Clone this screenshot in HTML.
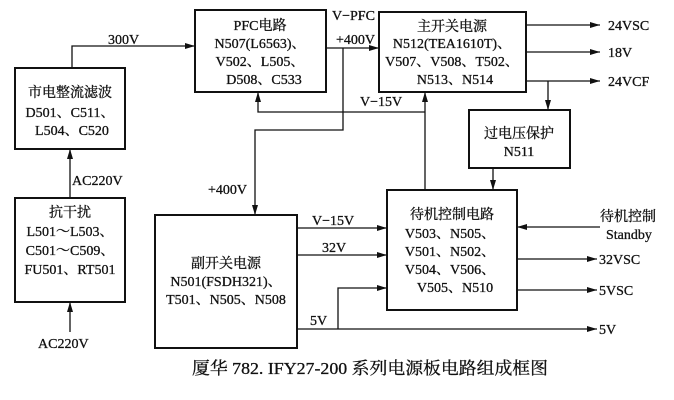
<!DOCTYPE html>
<html><head><meta charset="utf-8"><style>
html,body{margin:0;padding:0;background:#fff;}
svg{display:block;}
text{font-family:"Liberation Serif","Noto Serif CJK SC",serif;font-size:14px;fill:#111;stroke:#111;stroke-width:0.3;}
</style></head><body>
<svg width="674" height="400" viewBox="0 0 674 400" xmlns="http://www.w3.org/2000/svg">
<defs><marker id="a" markerWidth="10" markerHeight="6" refX="10" refY="3" orient="auto" markerUnits="userSpaceOnUse"><path d="M0,0 L10,3 L0,6 Z" fill="#111"/></marker></defs>
<g fill="none" stroke="#111" stroke-width="2">
<rect x="15" y="68" width="110" height="81"/>
<rect x="195" y="10" width="131" height="82"/>
<rect x="379" y="12" width="147" height="80"/>
<rect x="469" y="110" width="101" height="58"/>
<rect x="15" y="198" width="110" height="104"/>
<rect x="155" y="215" width="142" height="133"/>
<rect x="387" y="190" width="130" height="120"/>
</g>
<g fill="none" stroke="#111" stroke-width="1.3">
<path d="M72,68 V46 H195" marker-end="url(#a)"/>
<path d="M70,198 V149" marker-end="url(#a)"/>
<path d="M70,332 V302" marker-end="url(#a)"/>
<path d="M326,48 H379" marker-end="url(#a)"/>
<path d="M343,48 V130 H255 V215" marker-end="url(#a)"/>
<path d="M425,112 H258 V92" marker-end="url(#a)"/>
<path d="M425,190 V92" marker-end="url(#a)"/>
<path d="M526,25 H600" marker-end="url(#a)"/>
<path d="M526,52 H600" marker-end="url(#a)"/>
<path d="M526,81 H600" marker-end="url(#a)"/>
<path d="M548,81 V110" marker-end="url(#a)"/>
<path d="M493,168 V190" marker-end="url(#a)"/>
<path d="M297,228 H387" marker-end="url(#a)"/>
<path d="M297,255 H387" marker-end="url(#a)"/>
<path d="M297,329 H597" marker-end="url(#a)"/>
<path d="M338,329 V288 H387" marker-end="url(#a)"/>
<path d="M600,227 H517" marker-end="url(#a)"/>
<path d="M517,259 H597" marker-end="url(#a)"/>
<path d="M517,290 H597" marker-end="url(#a)"/>
</g>
<g text-anchor="middle">
<text x="70" y="97">市电整流滤波</text>
<text x="70" y="117">D501、C511、</text>
<text x="72" y="135">L504、C520</text>
<text x="260" y="30">PFC电路</text>
<text x="260" y="48">N507(L6563)、</text>
<text x="260" y="66">V502、L505、</text>
<text x="264" y="84">D508、C533</text>
<text x="452" y="31">主开关电源</text>
<text x="452" y="48">N512(TEA1610T)、</text>
<text x="452" y="66">V507、V508、T502、</text>
<text x="455" y="84">N513、N514</text>
<text x="519" y="138">过电压保护</text>
<text x="519" y="156">N511</text>
<text x="70" y="217">抗干扰</text>
<text x="70" y="236">L501～L503、</text>
<text x="70" y="255">C501～C509、</text>
<text x="70" y="274">FU501、RT501</text>
<text x="226" y="268">副开关电源</text>
<text x="226" y="286">N501(FSDH321)、</text>
<text x="226" y="304">T501、N505、N508</text>
<text x="452" y="219">待机控制电路</text>
<text x="450" y="238">V503、N505、</text>
<text x="450" y="256">V501、N502、</text>
<text x="450" y="274">V504、V506、</text>
<text x="455" y="292">V505、N510</text>
</g>
<text x="108" y="44">300V</text>
<text x="72" y="185">AC220V</text>
<text x="38" y="348">AC220V</text>
<text x="332" y="20">V−PFC</text>
<text x="336" y="44">+400V</text>
<text x="208" y="194">+400V</text>
<text x="360" y="106">V−15V</text>
<text x="312" y="225">V−15V</text>
<text x="322" y="252">32V</text>
<text x="310" y="325">5V</text>
<text x="608" y="30">24VSC</text>
<text x="608" y="57">18V</text>
<text x="608" y="86">24VCF</text>
<text x="600" y="221">待机控制</text>
<text x="606" y="239">Standby</text>
<text x="599" y="264">32VSC</text>
<text x="599" y="295">5VSC</text>
<text x="599" y="334">5V</text>
<text x="370" y="374" text-anchor="middle" style="font-size:17px" textLength="356" lengthAdjust="spacingAndGlyphs">厦华 782. IFY27-200 系列电源板电路组成框图</text>
</svg>
</body></html>
